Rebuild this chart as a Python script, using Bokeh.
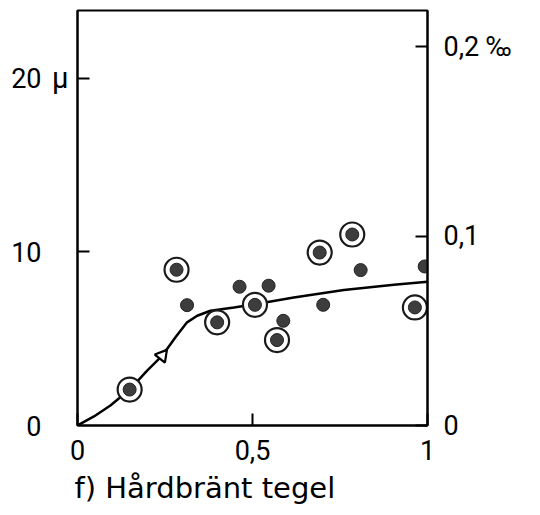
from bokeh.plotting import figure
from bokeh.models import Range1d, LinearAxis, FixedTicker, Title
from bokeh.embed import file_html
from bokeh.resources import INLINE

# ---- data ----
ring_x = [0.149, 0.283, 0.399, 0.507, 0.570, 0.692, 0.785, 0.964]
ring_y = [2.07, 8.97, 5.94, 6.95, 4.92, 9.96, 11.0, 6.80]
dot_x = [0.313, 0.463, 0.546, 0.588, 0.702, 0.809, 0.992]
dot_y = [6.93, 7.99, 8.05, 6.03, 6.95, 8.95, 9.16]
curve_x = [0.0, 0.047, 0.094, 0.149, 0.199, 0.242, 0.280, 0.313, 0.342, 0.380, 0.447, 0.507, 0.618, 0.761, 0.904, 1.0]
curve_y = [0.0, 0.52, 1.15, 2.07, 3.16, 4.02, 5.08, 5.94, 6.32, 6.61, 6.80, 6.98, 7.37, 7.80, 8.10, 8.28]
arrow_x = [0.242]
arrow_y = [4.02]

x_ticks = [0, 0.5, 1]
x_labels = ["0", "0,5", "1"]
y_ticks = [0, 10, 20]
y_labels = ["0", "10", "20"]
unit_ticks = [10, 20]
unit_labels = ["", "μ"]
r_ticks = [0, 0.1, 0.2]
r_labels = ["0", "0,1", "0,2 ‰"]
title_text = "f) Hårdbränt tegel"

FONT = "Roboto"
FS = "27px"

p = figure(width=536, height=513, x_range=Range1d(0, 1), y_range=Range1d(0, 23.9),
           output_backend="svg", toolbar_location=None,
           min_border_left=77, min_border_right=109, min_border_top=10, min_border_bottom=88,
           x_axis_location=None, y_axis_location=None)
p.extra_y_ranges = {"pm": Range1d(0, 0.219)}
p.grid.visible = False
p.outline_line_color = "black"
p.outline_line_width = 2
p.background_fill_color = "white"
p.border_fill_color = "white"


def style_axis(ax, ticks, labels, standoff, line=True, size=FS):
    ax.ticker = FixedTicker(ticks=ticks, minor_ticks=[])
    ax.major_label_overrides = {t: l for t, l in zip(ticks, labels)}
    ax.major_tick_in = 12 if line else 0
    ax.major_tick_out = 0
    ax.minor_tick_in = 0
    ax.minor_tick_out = 0
    ax.axis_line_width = 2
    ax.axis_line_color = "black" if line else None
    ax.major_tick_line_width = 2
    ax.major_tick_line_color = "black" if line else None
    ax.major_label_text_font = FONT
    ax.major_label_text_font_size = size
    ax.major_label_text_color = "black"
    ax.major_label_standoff = standoff


xa = LinearAxis()
style_axis(xa, x_ticks, x_labels, 14)
p.add_layout(xa, "below")

# left axis next to the frame: line, ticks and the unit sign
ua = LinearAxis()
style_axis(ua, unit_ticks, unit_labels, 9, size="29px")
p.add_layout(ua, "left")

# outer left axis: the numbers
ya = LinearAxis()
style_axis(ya, y_ticks, y_labels, 8, line=False)
p.add_layout(ya, "left")

ra = LinearAxis(y_range_name="pm")
style_axis(ra, r_ticks, r_labels, 16)
p.add_layout(ra, "right")

p.add_layout(Title(text=title_text, align="left", offset=-3, standoff=12,
                   text_font="DejaVu Sans", text_font_size="29px", text_font_style="normal",
                   text_color="black"), "below")

# curve
p.line(curve_x, curve_y, line_color="black", line_width=2.5)
# arrow head on the curve
p.scatter(arrow_x, arrow_y, marker="triangle", size=13, angle=-0.68,
          fill_color="white", line_color="black", line_width=2.2)
# circled points
p.scatter(ring_x, ring_y, marker="circle", size=24, fill_color="white",
          line_color="#1a1a1a", line_width=2.2)
p.scatter(ring_x, ring_y, marker="circle", size=13, fill_color="#3d3d3d",
          line_color="#222222", line_width=1)
# small dots
p.scatter(dot_x, dot_y, marker="circle", size=13, fill_color="#3d3d3d",
          line_color="#222222", line_width=1)

open("out.html", "w").write(file_html(p, INLINE))
